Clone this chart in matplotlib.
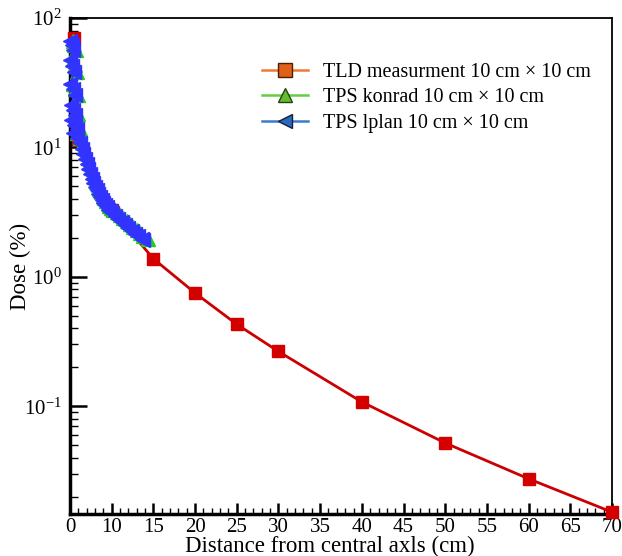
import numpy as np
import matplotlib
matplotlib.use('Agg')
import matplotlib.pyplot as plt
from matplotlib.lines import Line2D
from matplotlib.ticker import FixedLocator, LogLocator, LogFormatterMathtext, NullFormatter

plt.rcParams['font.family'] = ['Liberation Serif', 'DejaVu Serif']
plt.rcParams['mathtext.fontset'] = 'stix'

# TLD measurement
tld_x = [1.0, 2.0, 10, 15, 20, 25, 30, 40, 50, 60, 70]
tld_dose = [70, 11.5, 3.3, 1.38, 0.75, 0.43, 0.265, 0.108, 0.052, 0.0275, 0.0152]

# TPS lplan
lplan_x = [0.0, 0.4, 0.8, 0.0, 0.5, 1.0, 0.1, 0.6, 1.1, 0.2, 0.8, 1.3,
           0.3, 1.0, 1.6, 0.6, 1.6, 2.4, 2.8, 3.2, 3.6, 4.0, 4.4, 4.8,
           5.2, 5.6, 6.0, 6.4, 6.8, 7.2, 7.6, 8.0, 8.4, 8.8, 9.2, 9.6,
           10.0, 10.4, 10.8, 11.2, 11.6, 12.0, 12.4, 12.8, 13.2, 13.6, 13.8]
lplan_dose = [66.4, 61.9, 56.6, 47.4, 42.6, 38.3, 30.9, 28.3, 25.4, 21.3, 19.5, 17.8,
              16.3, 14.9, 13.9, 12.9, 11.8, 10.9, 9.8, 8.9, 8.1, 7.4, 6.8, 6.2,
              5.7, 5.3, 4.95, 4.65, 4.4, 4.15, 3.95, 3.75, 3.6, 3.45, 3.3, 3.2,
              3.1, 2.95, 2.8, 2.65, 2.5, 2.38, 2.27, 2.16, 2.06, 1.97, 1.93]

# TPS konrad
konrad_x = [0.6, 1.0, 1.4, 0.7, 1.1, 1.6, 0.8, 1.3, 1.8, 1.0, 1.5, 2.0,
            1.2, 1.8, 2.3, 1.6, 2.4, 3.0, 3.4, 3.8, 4.2, 4.6, 5.0, 5.4,
            5.8, 6.2, 6.6, 7.0, 7.4, 7.8, 8.2, 8.6, 9.0, 9.4, 9.8, 10.2,
            10.6, 11.0, 11.4, 11.8, 12.2, 12.6, 13.0, 13.4, 13.8, 14.3]
konrad_dose = [67.0, 62.0, 57.0, 48.0, 43.0, 38.5, 31.0, 28.5, 25.5, 21.5, 19.6, 18.0,
               16.5, 15.0, 14.0, 13.0, 11.9, 11.0, 10.0, 9.1, 8.3, 7.6, 7.0, 6.4,
               5.9, 5.45, 5.1, 4.8, 4.5, 4.25, 4.05, 3.85, 3.7, 3.55, 3.4, 3.28,
               3.15, 3.0, 2.85, 2.7, 2.55, 2.42, 2.3, 2.18, 2.07, 1.95]

xticks = [0, 10, 15, 20, 25, 30, 35, 40, 45, 50, 55, 60, 65, 70]
labels = ['TLD measurment 10 cm \u00d7 10 cm', 'TPS konrad 10 cm \u00d7 10 cm',
          'TPS lplan 10 cm \u00d7 10 cm']


# axis squeezes 0-10 into one tick step
def fwd(x):
    x = np.asarray(x, dtype=float)
    return np.where(x < 10, x / 2.0, x - 5.0)


def inv(t):
    t = np.asarray(t, dtype=float)
    return np.where(t < 5, t * 2.0, t + 5.0)


fig = plt.figure(figsize=(6.22, 5.56), dpi=100)
ax = fig.add_axes([70 / 622, 1 - 514 / 556, 542 / 622, 496 / 556])
ax.set_xscale('function', functions=(fwd, inv))
ax.set_yscale('log')

ax.plot(tld_x, tld_dose, color='#cc0000', lw=2, marker='s', ms=8.5,
        mfc='#d40000', mec='#d40000', clip_on=False, zorder=3)
ax.plot(konrad_x, konrad_dose, color='#22cc22', lw=1.5, marker='^', ms=10,
        mfc='#22cc22', mec='#22cc22', clip_on=False, zorder=4)
ax.plot(lplan_x, lplan_dose, color='#3333ff', lw=1.5, marker='<', ms=10,
        mfc='#3333ff', mec='#3333ff', clip_on=False, zorder=5)

ax.set_xlim(0, 70)
ax.set_ylim(0.0147, 100)

ax.xaxis.set_major_locator(FixedLocator(xticks))
ax.set_xticklabels([str(t) for t in xticks])
minor = [2, 4, 6, 8] + [i for i in range(11, 70) if i % 5]
ax.xaxis.set_minor_locator(FixedLocator(minor))
ax.xaxis.set_minor_formatter(NullFormatter())

ax.yaxis.set_major_locator(LogLocator(base=10, numticks=10))
ax.yaxis.set_major_formatter(LogFormatterMathtext())
ax.yaxis.set_minor_locator(LogLocator(base=10, subs=np.arange(2, 10), numticks=20))
ax.yaxis.set_minor_formatter(NullFormatter())

ax.tick_params(axis='x', which='major', direction='in', length=8, width=1.8,
               labelsize=15, pad=3, top=False)
ax.tick_params(axis='x', which='minor', direction='in', length=4, width=1.0, top=False)
ax.tick_params(axis='y', which='major', direction='in', length=12, width=1.8,
               labelsize=15, pad=6, right=False)
ax.tick_params(axis='y', which='minor', direction='in', length=6, width=1.0, right=False)

for s in ['left', 'bottom']:
    ax.spines[s].set_linewidth(2.5)
for s in ['top', 'right']:
    ax.spines[s].set_linewidth(1.3)

ax.set_xlabel('Distance from central axls (cm)', fontsize=16.5)
ax.xaxis.set_label_coords(0.48, -0.044)
ax.set_ylabel('Dose (%)', fontsize=16.5)
ax.yaxis.set_label_coords(-0.072, 0.5)

handles = [
    Line2D([], [], color='#f07a30', lw=1.8, marker='s', ms=10, mfc='#e0601a', mec='#4a2000'),
    Line2D([], [], color='#66cc44', lw=1.8, marker='^', ms=10, mfc='#66bb33', mec='#224411'),
    Line2D([], [], color='#3a7cc8', lw=1.8, marker='<', ms=10, mfc='#2a6ab8', mec='#112244'),
]
ax.legend(handles, labels, loc='upper right', bbox_to_anchor=(0.975, 0.925),
          frameon=False, fontsize=14.5, handlelength=2.3, handletextpad=0.7,
          labelspacing=0.3, borderaxespad=0)

fig.savefig('out.png', dpi=100)
